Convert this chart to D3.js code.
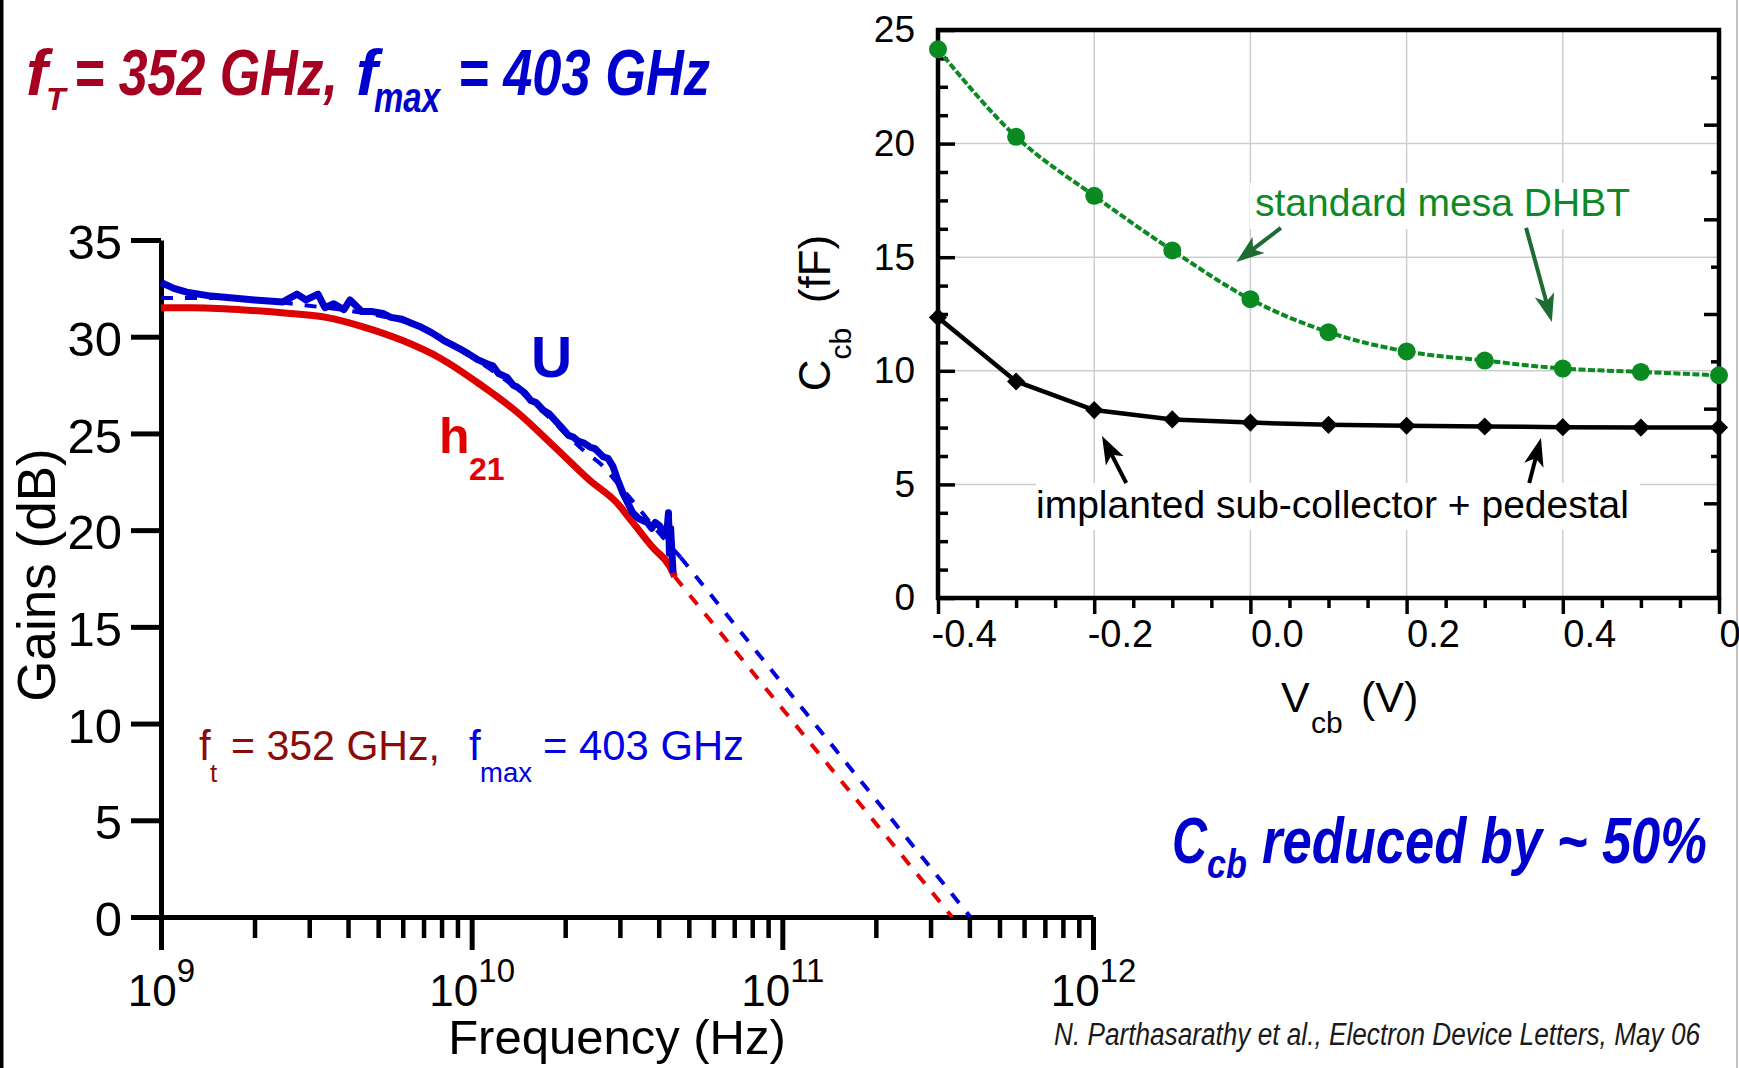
<!DOCTYPE html>
<html>
<head>
<meta charset="utf-8">
<script src="https://d3js.org/d3.v7.min.js"></script>
<style>
body { margin: 0; background: #fff; }
svg { display: block; background: #fff; }
</style>
</head>
<body>
<svg id="drawing_region"></svg>
<script>
const FONT = '"Liberation Sans", Arial, Helvetica, sans-serif';

// ---- left plot : gains vs frequency ----
const freq_ticks = [1e9, 1e10, 1e11, 1e12];
const gain_ticks = [0, 5, 10, 15, 20, 25, 30, 35];

const h21_freq = [1e9, 1.25e9, 1.8e9, 2.6e9, 3.4e9, 4.5e9, 6e9, 7.9e9, 1.05e10, 1.4e10, 1.85e10, 2.39e10, 2.94e10, 3.3e10, 3.83e10, 4.35e10, 4.5e10];
const h21_db   = [31.5, 31.5, 31.4, 31.2, 31.0, 30.5, 29.8, 28.9, 27.6, 26.1, 24.3, 22.6, 21.4, 20.4, 19.1, 18.1, 17.6];

const u_freq = [1e9, 1.1e9, 1.21e9, 1.45e9, 2.0e9, 2.47e9, 2.74e9, 2.93e9, 3.2e9, 3.37e9, 3.6e9, 3.69e9, 3.88e9, 4.06e9,
                4.43e9, 4.8e9, 5.18e9, 5.5e9, 5.97e9, 6.4e9, 6.87e9, 7.45e9, 7.8e9, 8.14e9, 8.6e9, 9.1e9, 9.8e9,
                1.05e10, 1.12e10, 1.17e10, 1.22e10, 1.3e10, 1.36e10, 1.4e10, 1.48e10, 1.55e10, 1.61e10, 1.7e10, 1.78e10,
                1.85e10, 1.95e10, 2.05e10, 2.13e10, 2.2e10, 2.3e10, 2.4e10, 2.5e10, 2.65e10, 2.75e10, 2.85e10, 2.95e10,
                3.07e10, 3.18e10, 3.3e10, 3.45e10, 3.55e10, 3.67e10, 3.8e10, 3.9e10, 4.04e10, 4.15e10, 4.25e10,
                4.3e10, 4.33e10, 4.37e10, 4.4e10, 4.45e10];
const u_db   = [32.8, 32.5, 32.3, 32.1, 31.9, 31.8, 32.2, 31.9, 32.2, 31.5, 31.7, 31.6, 31.4, 31.9,
                31.3, 31.3, 31.2, 31.0, 30.9, 30.7, 30.5, 30.2, 30.0, 29.8, 29.6, 29.4, 29.1,
                28.8, 28.6, 28.5, 28.1, 27.9, 27.5, 27.4, 27.1, 26.7, 26.6, 26.2, 26.0,
                25.7, 25.3, 24.9, 24.8, 24.6, 24.5, 24.3, 24.2, 23.8, 23.7, 23.3, 22.6,
                21.9, 21.4, 20.9, 20.6, 20.5, 20.4, 20.1, 20.4, 20.2, 19.7, 19.9,
                20.9, 18.8, 20.1, 19.2, 17.8];

const u_fit_freq = [1e9, 1.5e9, 2.2e9, 3e9, 4e9, 5e9, 6e9, 7e9, 8e9, 1e10, 1.2e10, 1.4e10, 1.7e10, 2e10, 2.3e10, 2.65e10, 2.85e10, 3.3e10, 3.8e10, 4.7e10];
const u_fit_db   = [32.0, 32.0, 31.85, 31.6, 31.35, 31.1, 30.8, 30.4, 29.9, 28.95, 28.1, 27.3, 26.1, 25.0, 24.1, 23.3, 22.7, 21.5, 20.3, 18.6];

const h21_ext_freq = [4.5e10, 3.52e11];
const h21_ext_db   = [17.6, 0];
const u_ext_freq   = [4.7e10, 4.03e11];
const u_ext_db     = [18.6, 0];

// ---- right plot : Ccb vs Vcb ----
const vcb_ticks = [-0.4, -0.2, 0.0, 0.2, 0.4, 0.6];
const ccb_ticks = [0, 5, 10, 15, 20, 25];
const vcb         = [-0.4, -0.3, -0.2, -0.1, 0.0, 0.1, 0.2, 0.3, 0.4, 0.5, 0.6];
const ccb_mesa    = [24.15, 20.3, 17.7, 15.3, 13.15, 11.7, 10.85, 10.45, 10.1, 9.95, 9.8];
const ccb_implant = [12.35, 9.53, 8.27, 7.86, 7.72, 7.62, 7.58, 7.55, 7.52, 7.5, 7.5];

const W = 1739, H = 1068;

const svg = d3.select('#drawing_region')
    .attr('width', W)
    .attr('height', H)
    .attr('font-family', FONT);

// page borders
svg.append('rect').attr('x', 0).attr('y', 0).attr('width', 3.5).attr('height', H).attr('fill', '#000');
svg.append('line').attr('x1', 1737).attr('x2', 1737).attr('y1', 0).attr('y2', H)
    .attr('stroke', '#c4c4c4').attr('stroke-width', 2);

// arrow heads
const defs = svg.append('defs');
[['arrow-green', '#1d6c33'], ['arrow-black', '#000']].forEach(([id, c]) => {
    defs.append('marker')
        .attr('id', id)
        .attr('viewBox', '0 -11 28 22')
        .attr('refX', 14).attr('refY', 0)
        .attr('markerWidth', 28).attr('markerHeight', 22)
        .attr('markerUnits', 'userSpaceOnUse')
        .attr('orient', 'auto')
        .append('path')
        .attr('d', 'M0,-10L28,0L0,10L7,0Z')
        .attr('fill', c);
});

function piece(x, y, str, size, color, opts) {
    opts = opts || {};
    const t = svg.append('text')
        .attr('x', x).attr('y', y)
        .attr('font-size', size)
        .attr('fill', color)
        .text(str);
    if (opts.bold) t.attr('font-weight', 'bold');
    if (opts.italic) t.attr('font-style', 'italic');
    if (opts.len) t.attr('textLength', opts.len).attr('lengthAdjust', 'spacingAndGlyphs');
    return t;
}

class GainChart {

    constructor(config, data) {
        this.config = config;
        this.data = data;
        this.init();
    }

    init() {
        let self = this;
        const cfg = self.config;

        self.g = svg.append('g');

        self.xscale = d3.scaleLog()
            .domain([freq_ticks[0], freq_ticks[freq_ticks.length - 1]])
            .range([cfg.left, cfg.right]);

        self.yscale = d3.scaleLinear()
            .domain([gain_ticks[0], gain_ticks[gain_ticks.length - 1]])
            .range([cfg.bottom, cfg.top]);

        self.line = d3.line()
            .x(d => self.xscale(d.f))
            .y(d => self.yscale(d.g));
    }

    update() {
        let self = this;
        self.render();
    }

    render() {
        let self = this;
        const cfg = self.config;

        // y axis
        self.g.append('g')
            .attr('transform', `translate(${cfg.left},0)`)
            .call(d3.axisLeft(self.yscale).tickValues(gain_ticks).tickSize(30).tickSizeOuter(0).tickPadding(9))
            .call(g => {
                g.attr('font-family', FONT).attr('font-size', 49);
                g.select('.domain').attr('stroke-width', 5);
                g.selectAll('.tick line').attr('stroke-width', 5);
                g.selectAll('.tick text').attr('dy', '0.38em').attr('fill', '#000');
            });

        // x axis, minor ticks
        let minor = [];
        freq_ticks.slice(0, -1).forEach(p => {
            for (let m = 2; m <= 9; m++) minor.push(m * p);
        });
        self.g.append('g')
            .attr('transform', `translate(0,${cfg.bottom})`)
            .call(d3.axisBottom(self.xscale).tickValues(minor).tickSize(21).tickFormat(''))
            .call(g => {
                g.select('.domain').remove();
                g.selectAll('.tick line').attr('stroke-width', 4.5);
            });

        // x axis, decades
        const xaxis = self.g.append('g')
            .attr('transform', `translate(0,${cfg.bottom})`)
            .call(d3.axisBottom(self.xscale).tickValues(freq_ticks).tickSize(33).tickSizeOuter(0).tickFormat(''))
            .call(g => {
                g.attr('font-family', FONT).attr('font-size', 44);
                g.select('.domain').attr('stroke-width', 5);
                g.selectAll('.tick line').attr('stroke-width', 5);
            });
        xaxis.selectAll('.tick text')
            .attr('y', 89).attr('dy', null).attr('fill', '#000')
            .each(function(d) {
                const t = d3.select(this);
                t.text(null);
                t.append('tspan').text('10');
                t.append('tspan').attr('dy', -24).attr('font-size', 33).text(Math.round(Math.log10(d)));
            });

        // axis titles
        self.g.append('text')
            .attr('transform', 'translate(55,575) rotate(-90)')
            .attr('text-anchor', 'middle')
            .attr('font-size', 53)
            .text('Gains (dB)');
        self.g.append('text')
            .attr('x', 617).attr('y', 1054)
            .attr('text-anchor', 'middle')
            .attr('font-size', 49)
            .text('Frequency (Hz)');

        // dashed fits and extrapolations
        self.g.append('path')
            .attr('d', self.line.curve(d3.curveMonotoneX)(self.data.u_fit))
            .attr('fill', 'none').attr('stroke', '#0000dd')
            .attr('stroke-width', 4).attr('stroke-dasharray', '12,12');
        self.line.curve(d3.curveLinear);
        self.g.append('path')
            .attr('d', self.line(self.data.h21_ext))
            .attr('fill', 'none').attr('stroke', '#e60000')
            .attr('stroke-width', 4).attr('stroke-dasharray', '12,12');
        self.g.append('path')
            .attr('d', self.line(self.data.u_ext))
            .attr('fill', 'none').attr('stroke', '#0000dd')
            .attr('stroke-width', 4).attr('stroke-dasharray', '12,12');

        // measured curves
        self.g.append('path')
            .attr('d', self.line.curve(d3.curveMonotoneX)(self.data.h21))
            .attr('fill', 'none').attr('stroke', '#dd0000')
            .attr('stroke-width', 7);
        self.g.append('path')
            .attr('d', self.line.curve(d3.curveLinear)(self.data.u))
            .attr('fill', 'none').attr('stroke', '#0000cc')
            .attr('stroke-width', 7).attr('stroke-linejoin', 'round');

        // curve names
        piece(531, 377, 'U', 57, '#0000cc', {bold: true});
        piece(439, 453, 'h', 50, '#e00000', {bold: true});
        piece(469, 480, '21', 32, '#e00000', {bold: true});

        // in-plot note
        piece(199, 760, 'f', 42, '#8b0a0a');
        piece(210, 782, 't', 26, '#8b0a0a');
        piece(231, 760, '= 352 GHz,', 42, '#8b0a0a', {len: 209});
        piece(469, 760, 'f', 42, '#0000e6');
        piece(480, 782, 'max', 28, '#0000e6', {len: 52});
        piece(543, 760, '= 403 GHz', 42, '#0000e6', {len: 201});
    }
}

class CcbChart {

    constructor(config, data) {
        this.config = config;
        this.data = data;
        this.init();
    }

    init() {
        let self = this;
        const cfg = self.config;

        self.g = svg.append('g');

        self.xscale = d3.scaleLinear()
            .domain([vcb_ticks[0], vcb_ticks[vcb_ticks.length - 1]])
            .range([cfg.left, cfg.right]);

        self.yscale = d3.scaleLinear()
            .domain([ccb_ticks[0], ccb_ticks[ccb_ticks.length - 1]])
            .range([cfg.bottom, cfg.top]);

        // secondary axis on the right (ticks only)
        self.yscale2 = d3.scaleLinear()
            .domain([0, 6])
            .range([cfg.bottom, cfg.top]);

        self.line = d3.line()
            .x(d => self.xscale(d.v))
            .y(d => self.yscale(d.c));
    }

    update() {
        let self = this;
        self.render();
    }

    arrow(from, to, marker, color) {
        let self = this;
        const x1 = self.xscale(from[0]), y1 = self.yscale(from[1]);
        const x2 = self.xscale(to[0]), y2 = self.yscale(to[1]);
        const len = Math.hypot(x2 - x1, y2 - y1);
        const k = (len - 14) / len;
        self.g.append('line')
            .attr('x1', x1).attr('y1', y1)
            .attr('x2', x1 + (x2 - x1) * k).attr('y2', y1 + (y2 - y1) * k)
            .attr('stroke', color).attr('stroke-width', 4)
            .attr('marker-end', `url(#${marker})`);
    }

    render() {
        let self = this;
        const cfg = self.config;
        const x = self.xscale, y = self.yscale;

        // grid
        self.g.append('g').selectAll('line')
            .data(vcb_ticks.slice(1, -1))
            .join('line')
            .attr('x1', d => x(d)).attr('x2', d => x(d))
            .attr('y1', cfg.top).attr('y2', cfg.bottom)
            .attr('stroke', '#cdcdcd').attr('stroke-width', 1.5);
        self.g.append('g').selectAll('line')
            .data(ccb_ticks.slice(1, -1))
            .join('line')
            .attr('x1', cfg.left).attr('x2', cfg.right)
            .attr('y1', d => y(d)).attr('y2', d => y(d))
            .attr('stroke', '#cdcdcd').attr('stroke-width', 1.5);

        // white boxes behind the notes
        self.g.append('rect').attr('x', 1250).attr('y', 183).attr('width', 392).attr('height', 46).attr('fill', '#fff');
        self.g.append('rect').attr('x', 1036).attr('y', 483).attr('width', 604).attr('height', 47).attr('fill', '#fff');

        // left axis
        const minorY = d3.range(0, 25.01, 1.25).filter(v => v % 5 !== 0);
        self.g.append('g')
            .attr('transform', `translate(${cfg.left},0)`)
            .call(d3.axisLeft(y).tickValues(minorY).tickSize(-10).tickFormat(''))
            .call(g => { g.select('.domain').remove(); g.selectAll('.tick line').attr('stroke-width', 3.5); });
        self.g.append('g')
            .attr('transform', `translate(${cfg.left},0)`)
            .call(d3.axisLeft(y).tickValues(ccb_ticks).tickSize(-17).tickSizeOuter(0).tickPadding(23))
            .call(g => {
                g.attr('font-family', FONT).attr('font-size', 37);
                g.select('.domain').remove();
                g.selectAll('.tick line').attr('stroke-width', 3.5);
                g.selectAll('.tick text').attr('fill', '#000');
            });

        // right axis ticks
        const rMajor = [1, 2, 3, 4, 5];
        const rMinor = [0.5, 1.5, 2.5, 3.5, 4.5, 5.5];
        self.g.append('g')
            .attr('transform', `translate(${cfg.right},0)`)
            .call(d3.axisRight(self.yscale2).tickValues(rMajor).tickSize(-15).tickFormat(''))
            .call(g => { g.select('.domain').remove(); g.selectAll('.tick line').attr('stroke-width', 3.5); });
        self.g.append('g')
            .attr('transform', `translate(${cfg.right},0)`)
            .call(d3.axisRight(self.yscale2).tickValues(rMinor).tickSize(-8).tickFormat(''))
            .call(g => { g.select('.domain').remove(); g.selectAll('.tick line').attr('stroke-width', 3.5); });

        // bottom axis
        const minorX = d3.range(0, 21).filter(i => i % 4 !== 0).map(i => -0.4 + i * 0.05);
        self.g.append('g')
            .attr('transform', `translate(0,${cfg.bottom})`)
            .call(d3.axisBottom(x).tickValues(minorX).tickSize(10).tickFormat(''))
            .call(g => { g.select('.domain').remove(); g.selectAll('.tick line').attr('stroke-width', 3.5); });
        self.g.append('g')
            .attr('transform', `translate(0,${cfg.bottom})`)
            .call(d3.axisBottom(x).tickValues(vcb_ticks).tickSize(16).tickSizeOuter(0).tickFormat(d => d.toFixed(1)))
            .call(g => {
                g.attr('font-family', FONT).attr('font-size', 38);
                g.select('.domain').remove();
                g.selectAll('.tick line').attr('stroke-width', 3.5);
                g.selectAll('.tick text')
                    .attr('text-anchor', 'start')
                    .attr('x', d => d < 0 ? -7 : 0)
                    .attr('y', 49).attr('dy', null)
                    .attr('fill', '#000');
            });

        // frame
        self.g.append('rect')
            .attr('x', cfg.left).attr('y', cfg.top)
            .attr('width', cfg.right - cfg.left).attr('height', cfg.bottom - cfg.top)
            .attr('fill', 'none').attr('stroke', '#000').attr('stroke-width', 4.5);

        // standard mesa DHBT
        self.g.append('path')
            .attr('d', self.line.curve(d3.curveMonotoneX)(self.data.mesa))
            .attr('fill', 'none').attr('stroke', '#0b8a22')
            .attr('stroke-width', 4).attr('stroke-dasharray', '7,2.5');
        self.g.append('g').selectAll('circle')
            .data(self.data.mesa)
            .join('circle')
            .attr('cx', d => x(d.v)).attr('cy', d => y(d.c))
            .attr('r', 9)
            .attr('fill', '#0b8a22');

        // implanted sub-collector + pedestal
        self.g.append('path')
            .attr('d', self.line.curve(d3.curveLinear)(self.data.implant))
            .attr('fill', 'none').attr('stroke', '#000')
            .attr('stroke-width', 4.5).attr('stroke-linejoin', 'round');
        self.g.append('g').selectAll('path')
            .data(self.data.implant)
            .join('path')
            .attr('d', d3.symbol().type(d3.symbolSquare).size(165))
            .attr('transform', d => `translate(${x(d.v)},${y(d.c)}) rotate(45)`)
            .attr('fill', '#000');

        // notes
        self.g.append('text')
            .attr('x', 1255).attr('y', 216)
            .attr('font-size', 39).attr('fill', '#0d8a26')
            .text('standard mesa DHBT');
        self.g.append('text')
            .attr('x', 1036).attr('y', 518)
            .attr('font-size', 39).attr('fill', '#000')
            .text('implanted sub-collector + pedestal');

        self.arrow([0.039, 16.29], [-0.018, 14.79], 'arrow-green', '#1d6c33');
        self.arrow([0.353, 16.29], [0.386, 12.15], 'arrow-green', '#1d6c33');
        self.arrow([-0.159, 5.06], [-0.19, 7.13], 'arrow-black', '#000');
        self.arrow([0.357, 5.06], [0.372, 7.04], 'arrow-black', '#000');

        // axis titles
        const yl = self.g.append('text')
            .attr('transform', 'translate(830,313) rotate(-90)')
            .attr('text-anchor', 'middle')
            .attr('font-size', 44);
        yl.append('tspan').text('C');
        yl.append('tspan').attr('dy', 21).attr('font-size', 30).text('cb');
        yl.append('tspan').attr('dy', -21).text('\u00a0 (fF)');

        self.g.append('text').attr('x', 1281).attr('y', 712).attr('font-size', 43).text('V');
        self.g.append('text').attr('x', 1311).attr('y', 733).attr('font-size', 30).text('cb');
        self.g.append('text').attr('x', 1361).attr('y', 712).attr('font-size', 43).text('(V)');
    }
}

const gain_data = {
    h21: h21_freq.map((f, i) => ({f: f, g: h21_db[i]})),
    u: u_freq.map((f, i) => ({f: f, g: u_db[i]})),
    u_fit: u_fit_freq.map((f, i) => ({f: f, g: u_fit_db[i]})),
    h21_ext: h21_ext_freq.map((f, i) => ({f: f, g: h21_ext_db[i]})),
    u_ext: u_ext_freq.map((f, i) => ({f: f, g: u_ext_db[i]}))
};

const ccb_data = {
    mesa: vcb.map((v, i) => ({v: v, c: ccb_mesa[i]})),
    implant: vcb.map((v, i) => ({v: v, c: ccb_implant[i]}))
};

const gain_chart = new GainChart({left: 161, right: 1093, top: 240, bottom: 917}, gain_data);
gain_chart.update();

const ccb_chart = new CcbChart({left: 938, right: 1719, top: 30, bottom: 598}, ccb_data);
ccb_chart.update();

// slide headline and notes
piece(26, 95, 'f', 65, '#a50021', {bold: true, italic: true});
piece(46, 110, 'T', 32, '#a50021', {bold: true, italic: true});
piece(74, 95, '= 352 GHz,', 65, '#a50021', {bold: true, italic: true, len: 264});
piece(356, 95, 'f', 65, '#0000cc', {bold: true, italic: true});
piece(374, 112, 'max', 42, '#0000cc', {bold: true, italic: true, len: 66});
piece(458, 95, '= 403 GHz', 65, '#0000cc', {bold: true, italic: true, len: 252});

piece(1172, 863, 'C', 65, '#0000cc', {bold: true, italic: true, len: 35});
piece(1207, 878, 'cb', 40, '#0000cc', {bold: true, italic: true, len: 40});
piece(1262, 863, 'reduced by ~ 50%', 65, '#0000cc', {bold: true, italic: true, len: 445});

piece(1054, 1045, 'N. Parthasarathy et al., Electron Device Letters, May 06', 31, '#1a1a1a', {italic: true, len: 646});
</script>
</body>
</html>
